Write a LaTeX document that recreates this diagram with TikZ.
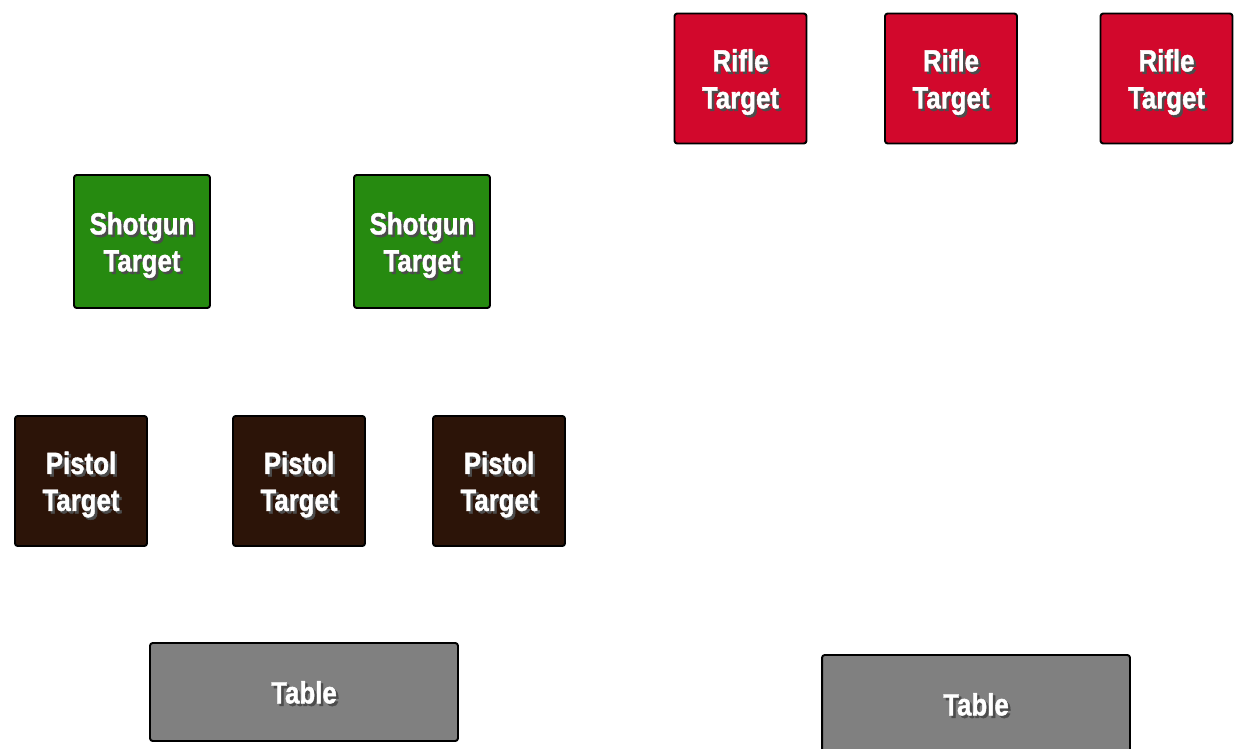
\documentclass[tikz,border=0pt]{standalone}
\usepackage{fontspec}
\newfontfamily\targetfont{Liberation Sans}[FakeStretch=0.84,BoldFeatures={FakeBold=1.3}]
\usepackage{xcolor}
\definecolor{riflered}{RGB}{210,8,44}
\definecolor{shotgreen}{RGB}{38,138,16}
\definecolor{pistolbrown}{RGB}{44,20,8}
\definecolor{tablegray}{RGB}{128,128,128}
\newcommand{\shtext}[1]{\raisebox{-3pt}[\height][\depth]{\makebox[0pt][l]{\hspace{1.4pt}\raisebox{-1.4pt}{\color{black!70}\begin{tabular}{@{}c@{}}#1\end{tabular}}}\begin{tabular}{@{}c@{}}#1\end{tabular}}}

\begin{document}
\begin{tikzpicture}[x=.02cm,y=-.02cm,line join=round,
  target/.style={draw=black,line width=1.1pt,rounded corners=1.5pt,inner sep=0pt,
    minimum width=2.64cm,minimum height=2.6cm,text=white,
    font=\fontsize{17.5}{21}\targetfont\bfseries},
  rifle/.style={target,fill=riflered},
  shotgun/.style={target,fill=shotgreen,minimum width=2.72cm,minimum height=2.66cm},
  pistol/.style={target,fill=pistolbrown},
  tablebox/.style={target,fill=tablegray,minimum width=6.16cm,minimum height=1.96cm}]
\useasboundingbox (0,0) rectangle (1235,748);
% rifle targets
\node[rifle] (rifleA) at (740.5,78.5) {\shtext{Rifle\\Target}};
\node[rifle] (rifleB) at (951,78.5) {\shtext{Rifle\\Target}};
\node[rifle] (rifleC) at (1166.5,78.5) {\shtext{Rifle\\Target}};
% shotgun targets
\node[shotgun] (shotgunA) at (142,241.5) {\shtext{Shotgun\\Target}};
\node[shotgun] (shotgunB) at (422,241.5) {\shtext{Shotgun\\Target}};
% pistol targets
\node[pistol] (pistolA) at (81,481) {\shtext{Pistol\\Target}};
\node[pistol] (pistolB) at (299,481) {\shtext{Pistol\\Target}};
\node[pistol] (pistolC) at (499,481) {\shtext{Pistol\\Target}};
% tables
\node[tablebox] (tableA) at (304,692) {\shtext{Table}};
\node[tablebox] (tableB) at (976,704) {\shtext{Table}};
\end{tikzpicture}
\end{document}
